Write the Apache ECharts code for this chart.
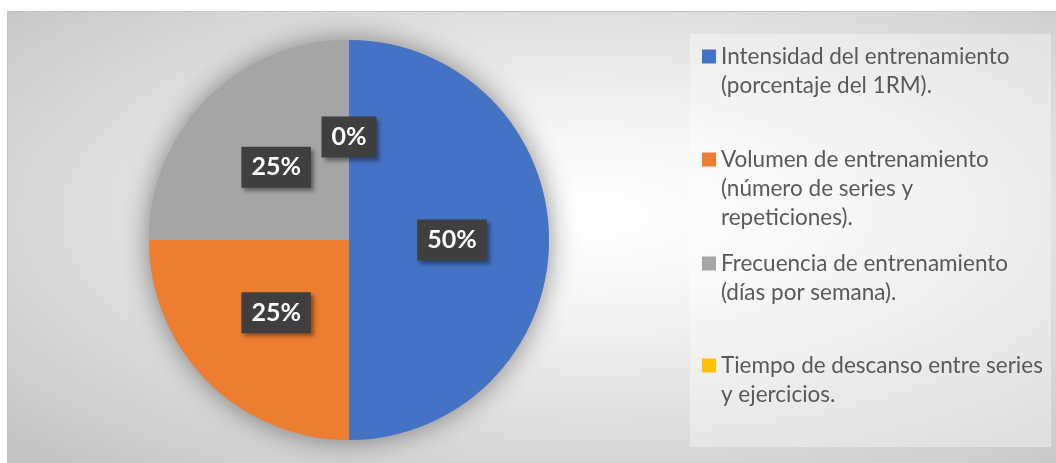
<!DOCTYPE html>
<html>
<head>
<meta charset="utf-8">
<script src="https://cdn.jsdelivr.net/npm/echarts@6/dist/echarts.min.js"></script>
<style>
html, body { margin: 0; padding: 0; background: #ffffff; }
#chart {
	position: absolute; left: 7px; top: 11px; width: 1049px; height: 452px;
	box-sizing: border-box;
	border-top: 1px solid #c4c4c4; border-left: 1px solid #c4c4c4;
	background: radial-gradient(ellipse farthest-corner at 56% 45%, #ffffff 0%, #f6f6f6 25%, #c2c2c2 100%);
}
</style>
</head>
<body>
<div id="chart"></div>
<script>
// categorias y valores del grafico
var categories = [
	'Intensidad del entrenamiento\n(porcentaje del 1RM).',
	'Volumen de entrenamiento\n(número de series y\nrepeticiones).',
	'Frecuencia de entrenamiento\n(días por semana).',
	'Tiempo de descanso entre series\ny ejercicios.'
];
var values = [50, 25, 25, 0];
var colors = ['#4472C4', '#ED7D31', '#A5A5A5', '#FFC000'];

var chart = echarts.init(document.getElementById('chart'));

var pieData = [];
var total = 0;
for (var i = 0; i < categories.length; i++) {
	pieData.push({ name: categories[i], value: values[i], itemStyle: { color: colors[i] } });
	total += values[i];
}

// una leyenda por elemento, repartidas en vertical como en Excel
// el cuadrado va alineado con la primera linea del texto
var lineH = 29;
var legendTops = [30, 133, 237, 339];
var legends = [];
for (var i = 0; i < categories.length; i++) {
	var lines = categories[i].split('\n').length;
	var h = lines * lineH;
	legends.push({
		data: [categories[i]],
		left: 694,
		top: legendTops[i],
		padding: 0,
		itemWidth: 14,
		itemHeight: h,
		icon: 'path://M0,7.5h14v14h-14z M0,0h0.01 M0,' + h + 'h0.01',
		selectedMode: false,
		textStyle: {
			fontFamily: 'Lato',
			fontSize: 22.5,
			lineHeight: lineH,
			color: '#595959'
		}
	});
}

var option = {
	animation: false,
	backgroundColor: 'transparent',
	legend: legends,
	graphic: [{
		type: 'rect',
		left: 682,
		top: 22,
		shape: { width: 361, height: 413 },
		style: { fill: 'rgba(255,255,255,0.35)' },
		silent: true,
		z: -1
	}],
	series: [{
		// sombra detras del pastel
		type: 'pie',
		center: [341, 228],
		radius: 200,
		silent: true,
		label: { show: false },
		labelLine: { show: false },
		itemStyle: {
			color: '#9a9a9a',
			shadowBlur: 28,
			shadowColor: 'rgba(0,0,0,0.45)'
		},
		data: [{ name: 'total', value: total }],
		z: 1
	}, {
		type: 'pie',
		center: [341, 228],
		radius: 200,
		startAngle: 90,
		clockwise: true,
		avoidLabelOverlap: false,
		itemStyle: { borderWidth: 0 },
		label: {
			show: true,
			position: 'inside',
			formatter: '{d}%',
			color: '#ffffff',
			fontFamily: 'Lato',
			fontWeight: 'bold',
			fontSize: 25,
			lineHeight: 25,
			backgroundColor: '#3f3f3f',
			padding: [8, 10],
			shadowColor: 'rgba(0,0,0,0.4)',
			shadowBlur: 4,
			shadowOffsetX: 3,
			shadowOffsetY: 3
		},
		labelLine: { show: false },
		data: pieData,
		z: 2
	}]
};

chart.setOption(option);
</script>
</body>
</html>
